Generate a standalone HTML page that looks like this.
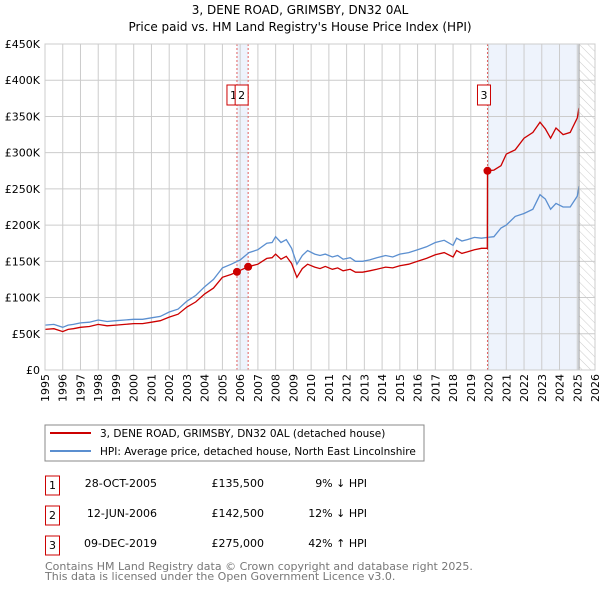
<!DOCTYPE html>
<html><head><meta charset="utf-8"><style>
body{margin:0;background:#fff;font-family:"DejaVu Sans","Liberation Sans",sans-serif;}
svg text{font-family:"DejaVu Sans","Liberation Sans",sans-serif;}
</style></head><body>
<svg id="c" width="600" height="590" viewBox="0 0 600 590" xmlns="http://www.w3.org/2000/svg">
<defs><pattern id="hatch" width="6" height="6" patternUnits="userSpaceOnUse" patternTransform="rotate(-45)"><line x1="0" y1="0" x2="0" y2="6" stroke="#ccc" stroke-width="1"/></pattern></defs>
<text x="300" y="14" text-anchor="middle" font-size="12">3, DENE ROAD, GRIMSBY, DN32 0AL</text>
<text x="300" y="31" text-anchor="middle" font-size="12">Price paid vs. HM Land Registry's House Price Index (HPI)</text>
<g id="plot"></g>
<rect x="45" y="425" width="379" height="36" fill="#fff" stroke="#888"/>
<line x1="50" y1="433" x2="91" y2="433" stroke="#cc0000" stroke-width="2"/>
<text x="100" y="437" font-size="10.5">3, DENE ROAD, GRIMSBY, DN32 0AL (detached house)</text>
<line x1="50" y1="451" x2="91" y2="451" stroke="#5b8fd0" stroke-width="2"/>
<text x="100" y="455" font-size="10.5">HPI: Average price, detached house, North East Lincolnshire</text>
<g font-size="11">
<rect x="45.5" y="476" width="14" height="19" fill="#fff" stroke="#cc0000"/><text x="52.5" y="489" text-anchor="middle">1</text>
<text x="157" y="487" text-anchor="end">28-OCT-2005</text>
<text x="264" y="487" text-anchor="end">£135,500</text>
<text x="367" y="487" text-anchor="end">9% ↓ HPI</text>
<rect x="45.5" y="506" width="14" height="19" fill="#fff" stroke="#cc0000"/><text x="52.5" y="519" text-anchor="middle">2</text>
<text x="157" y="517" text-anchor="end">12-JUN-2006</text>
<text x="264" y="517" text-anchor="end">£142,500</text>
<text x="367" y="517" text-anchor="end">12% ↓ HPI</text>
<rect x="45.5" y="536" width="14" height="19" fill="#fff" stroke="#cc0000"/><text x="52.5" y="549" text-anchor="middle">3</text>
<text x="157" y="547" text-anchor="end">09-DEC-2019</text>
<text x="264" y="547" text-anchor="end">£275,000</text>
<text x="367" y="547" text-anchor="end">42% ↑ HPI</text>
</g>
<text x="45" y="570" font-size="11" fill="#777">Contains HM Land Registry data © Crown copyright and database right 2025.</text>
<text x="45" y="580" font-size="11" fill="#777">This data is licensed under the Open Government Licence v3.0.</text>
</svg>
<script>
const yearTicks=[1995,1996,1997,1998,1999,2000,2001,2002,2003,2004,2005,2006,2007,2008,2009,2010,2011,2012,2013,2014,2015,2016,2017,2018,2019,2020,2021,2022,2023,2024,2025,2026];
const priceTicks=[0,50000,100000,150000,200000,250000,300000,350000,400000,450000];
const priceTickLabels=["£0","£50K","£100K","£150K","£200K","£250K","£300K","£350K","£400K","£450K"];
const hpiT=[1995,1995.5,1996,1996.3,1996.6,1997,1997.5,1998,1998.5,1999,1999.5,2000,2000.5,2001,2001.5,2002,2002.5,2003,2003.5,2004,2004.5,2005,2005.5,2006,2006.5,2007,2007.5,2007.8,2008,2008.3,2008.6,2008.9,2009.2,2009.5,2009.8,2010.2,2010.5,2010.8,2011.2,2011.5,2011.8,2012.2,2012.5,2012.9,2013.3,2013.7,2014.2,2014.6,2015,2015.5,2016,2016.5,2017,2017.5,2018,2018.2,2018.5,2018.8,2019.2,2019.6,2019.94,2020.3,2020.7,2021,2021.5,2022,2022.5,2022.9,2023.2,2023.5,2023.8,2024.2,2024.6,2025,2025.1];
const hpiV=[62000,63000,59000,62000,63000,65000,66000,69000,67000,68000,69000,70000,70000,72000,74000,80000,84000,95000,103000,115000,125000,141000,146000,152000,162000,166000,175000,176000,184000,176000,180000,168000,146000,158000,165000,160000,158000,160000,156000,158000,153000,155000,150000,150000,152000,155000,158000,156000,160000,162000,166000,170000,176000,179000,172000,182000,178000,180000,183000,182000,183000,184000,196000,200000,212000,216000,222000,242000,236000,222000,230000,225000,225000,240000,254000];
const paidT=[1995,1995.5,1996,1996.3,1996.6,1997,1997.5,1998,1998.5,1999,1999.5,2000,2000.5,2001,2001.5,2002,2002.5,2003,2003.5,2004,2004.5,2005,2005.5,2005.82,2006.45,2007,2007.5,2007.8,2008,2008.3,2008.6,2008.9,2009.2,2009.5,2009.8,2010.2,2010.5,2010.8,2011.2,2011.5,2011.8,2012.2,2012.5,2012.9,2013.3,2013.7,2014.2,2014.6,2015,2015.5,2016,2016.5,2017,2017.5,2018,2018.2,2018.5,2018.8,2019.2,2019.6,2019.93,2019.94,2020.3,2020.7,2021,2021.5,2022,2022.5,2022.9,2023.2,2023.5,2023.8,2024.2,2024.6,2025,2025.1];
const paidV=[56000,57000,53000,56000,57000,59000,60000,63000,61000,62000,63000,64000,64000,66000,68000,73000,77000,87000,94000,105000,113000,128000,132000,135500,142500,146000,154000,155000,160000,153000,157000,147000,128000,140000,146000,142000,140000,143000,139000,141000,137000,139000,135000,135000,137000,139000,142000,141000,144000,146000,150000,154000,159000,162000,156000,165000,161000,163000,166000,168000,168000,275000,276000,282000,298000,304000,320000,328000,342000,333000,320000,334000,325000,328000,348000,362000];
const saleT=[2005.82,2006.45,2019.94];
const saleV=[135500,142500,275000];
const saleLabels=["1","2","3"];

const X0=45,X1=595,Y0=370,Y1=44;
const xs=t=>X0+(t-1995)/(2026-1995)*(X1-X0);
const ys=v=>Y0-v/450000*(Y0-Y1);
const NS="http://www.w3.org/2000/svg";
const g=document.getElementById('plot');
function mk(tag,attrs,parent){const e=document.createElementNS(NS,tag);for(const k in attrs)e.setAttribute(k,attrs[k]);(parent||g).appendChild(e);return e;}
const dataEnd=hpiT[hpiT.length-1];
let r=mk('rect',{x:xs(saleT[0]),y:Y1,width:xs(saleT[1])-xs(saleT[0]),height:Y0-Y1,fill:'#eef3fc'});


r=mk('rect',{x:xs(saleT[2]),y:Y1,width:xs(dataEnd)-xs(saleT[2]),height:Y0-Y1,fill:'#eef3fc'});


r=mk('rect',{x:xs(dataEnd),y:Y1,width:X1-xs(dataEnd),height:Y0-Y1,fill:'url(#hatch)'});


yearTicks.forEach(y=>{
  const l=mk('line',{x1:xs(y),x2:xs(y),y1:Y1,y2:Y0,stroke:'#ccc','stroke-width':1});
  
  
  const t=mk('text',{x:0,y:0,'font-size':11,transform:`translate(${xs(y)+4},${Y0+32}) rotate(-90)`});
  t.textContent=y;
  
  
});
priceTicks.forEach((v,i)=>{
  const l=mk('line',{x1:X0,x2:X1,y1:ys(v),y2:ys(v),stroke:'#ccc','stroke-width':1});
  
  
  const t=mk('text',{x:40,y:ys(v)+4,'font-size':11,'text-anchor':'end'});
  t.textContent=priceTickLabels[i];
  
  
});
saleT.forEach((t,i)=>{
  const l=mk('line',{x1:xs(t),x2:xs(t),y1:Y1,y2:Y0,stroke:'#e06060','stroke-width':1,'stroke-dasharray':'2,2'});
  
  
});
const hp=mk('path',{d:hpiT.map((t,i)=>(i?'L':'M')+xs(t).toFixed(1)+','+ys(hpiV[i]).toFixed(1)).join(''),fill:'none',stroke:'#5b8fd0','stroke-width':1.3});


const pp=mk('path',{d:paidT.map((t,i)=>(i?'L':'M')+xs(t).toFixed(1)+','+ys(paidV[i]).toFixed(1)).join(''),fill:'none',stroke:'#cc0000','stroke-width':1.3});


const boxX=[xs(saleT[0])-10,xs(saleT[1])-13,xs(saleT[2])-10];
saleT.forEach((t,i)=>{
  const c=mk('circle',{cx:xs(t),cy:ys(saleV[i]),r:4,fill:'#cc0000'});
  
  
  const b=mk('rect',{x:boxX[i],y:85,width:13,height:20,fill:'#fff',stroke:'#cc0000'});
  
  
  const tx=mk('text',{x:boxX[i]+6.5,y:99,'font-size':11,'text-anchor':'middle'});
  tx.textContent=saleLabels[i];
  
  
});
const fr=mk('line',{x1:xs(dataEnd),x2:xs(dataEnd),y1:Y1,y2:Y0,stroke:'#999','stroke-width':1});


const ax=mk('rect',{x:X0,y:Y1,width:X1-X0,height:Y0-Y1,fill:'none',stroke:'#ccc'});


</script>
</body></html>
